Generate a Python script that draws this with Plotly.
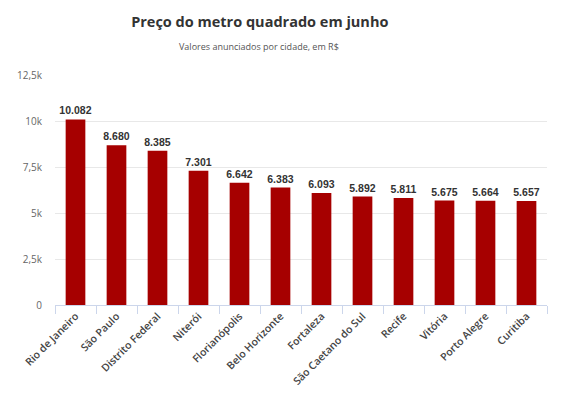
import plotly.graph_objects as go

cities = ["Rio de Janeiro", "São Paulo", "Distrito Federal", "Niterói", "Florianópolis",
          "Belo Horizonte", "Fortaleza", "São Caetano do Sul", "Recife", "Vitória",
          "Porto Alegre", "Curitiba"]
prices = [10082, 8680, 8385, 7301, 6642, 6383, 6093, 5892, 5811, 5675, 5664, 5657]
tick_vals = [0, 2500, 5000, 7500, 10000, 12500]
tick_text = ["0", "2,5k", "5k", "7,5k", "10k", "12,5k"]

fig = go.Figure(go.Bar(
    x=cities, y=prices,
    marker=dict(color="#a60000", line=dict(width=0)),
    text=[f"{v:,}".replace(",", ".") for v in prices],
    textposition="outside", cliponaxis=False, constraintext="none",
    textfont=dict(family="Liberation Sans", size=10.5, color="#333333", weight="bold"),
))

fig.update_layout(
    width=562, height=392,
    margin=dict(l=47, r=23, t=67, b=95),
    paper_bgcolor="white", plot_bgcolor="white",
    bargap=0.52,
    showlegend=False,
    font=dict(family="Open Sans", color="#444444"),
    title=dict(text="<b>Preço do metro quadrado em junho</b>", x=0.448, xanchor="center",
               y=0.964, yanchor="middle",
               font=dict(family="Open Sans", size=14.5, color="#333333")),
    annotations=[dict(text="Valores anunciados por cidade, em R$", xref="paper", yref="paper",
                      x=0.415, xanchor="center", y=1.126, yanchor="middle",
                      showarrow=False,
                      font=dict(family="Open Sans", size=9, color="#555555"))],
)
fig.update_xaxes(
    tickangle=-45, ticks="outside", tickson="boundaries", ticklen=8, tickcolor="#ccd6eb",
    showline=True, linecolor="#ccd6eb", linewidth=1, automargin=False,
    tickfont=dict(family="Open Sans", size=10.5, color="#444444", weight=600),
)
fig.update_yaxes(
    range=[0, 12500], tickvals=tick_vals, ticktext=tick_text, automargin=False,
    showgrid=True, gridcolor="#e8e8e8", zeroline=False,
    tickfont=dict(family="Open Sans", size=10, color="#666666"),
    ticks="", ticklabelstandoff=12,
)

fig.write_html("out.html")
